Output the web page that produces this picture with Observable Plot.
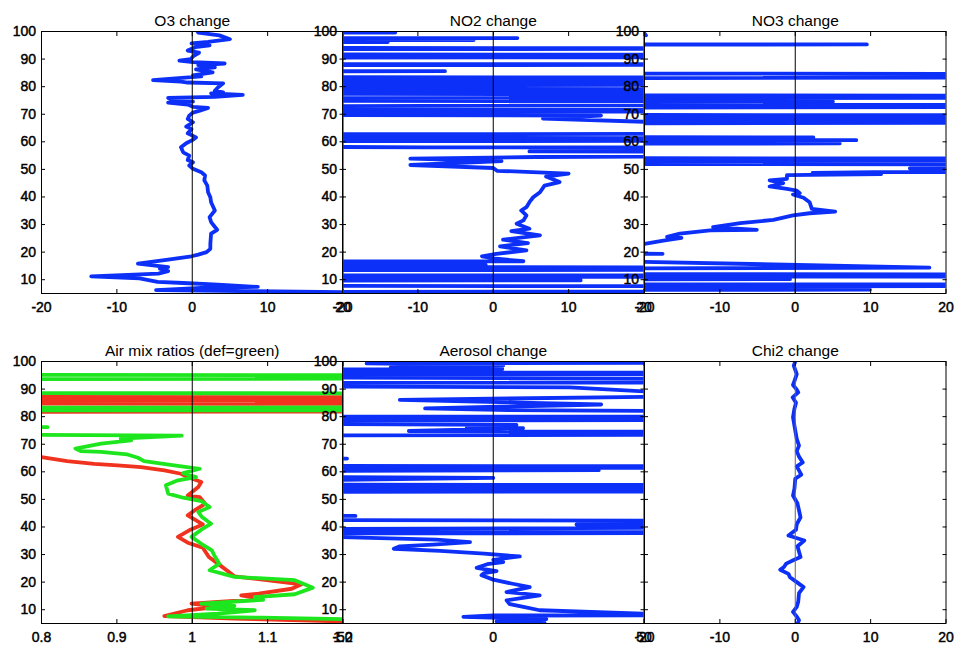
<!DOCTYPE html>
<html>
<head>
<meta charset="utf-8">
<script src="https://cdn.jsdelivr.net/npm/d3@7"></script>
<script src="https://cdn.jsdelivr.net/npm/@observablehq/plot@0.6"></script>
<style>
  body { margin: 0; background: #fff; }
  #fig { position: relative; width: 955px; height: 648px; background: #fff; overflow: hidden; }
  #fig svg { position: absolute; }
  /* tick labels are set a little heavier than the titles */
  #fig g[aria-label$="tick label"] { stroke: #000; stroke-width: 0.45px; }
</style>
</head>
<body>
<div id="fig"></div>
<script>
// Retrieval profiles, listed as [altitude, value] from the top down.
// Values far outside the axis limits are unstable retrieval levels; the axes clip them.

const o3Change = [
  [100.0, 0.7], [99.6, 0.8], [98.6, 3.6], [97.2, 5.0], [96.2, 2.1], [95.7, -0.1], [95.0, 2.3], [94.3, 0.4],
  [93.1, -0.6], [92.3, 0.9], [91.2, 0.2], [90.0, -0.2], [89.4, -1.7], [88.9, 0.1], [88.4, 4.3], [87.8, 0.8],
  [87.0, 3.0], [86.3, 0.5], [85.2, 2.7], [84.1, 0.1], [83.7, 1.2], [82.4, -5.2], [81.8, -1.5], [81.5, -0.6],
  [81.2, 4.1], [79.7, 3.4], [78.5, 3.0], [77.9, 4.1], [77.6, 2.5], [77.0, 6.7], [76.3, 3.0], [75.9, -3.2],
  [74.9, -2.3], [74.6, 0.1], [74.2, -3.2], [73.5, -0.6], [72.7, 0.1], [72.3, 2.1], [71.3, 1.0], [70.6, 0.1],
  [69.5, -0.4], [68.3, -0.6], [67.1, 0.1], [65.5, -0.8], [64.6, -0.1], [63.1, -0.6], [61.6, 0.5], [60.6, 0.0],
  [59.5, -0.8], [58.0, -1.5], [56.2, -1.2], [55.0, -0.4], [53.4, -0.6], [52.6, 0.1], [51.4, -0.4], [50.2, 0.1],
  [49.0, 1.2], [47.8, 1.7], [46.0, 1.6], [44.1, 2.0], [41.7, 2.1], [39.9, 2.4], [38.1, 2.5], [35.1, 3.0],
  [32.7, 2.3], [30.9, 2.5], [28.1, 3.3], [26.7, 2.5], [23.0, 2.4], [21.2, 2.4], [20.0, 1.9], [19.1, 0.8],
  [18.5, -0.1], [17.3, -3.2], [15.8, -7.2], [14.6, -3.2], [14.0, -4.3], [13.1, -3.2], [12.2, -4.5],
  [11.2, -13.4], [10.5, -7.0], [9.2, -4.6], [8.8, -1.2], [8.2, 3.4], [7.4, 8.7], [7.0, 1.2], [6.2, -4.8],
  [5.4, 23.3], [5.0, 40]
];

const no2Change = [
  [100.0, -200], [99.6, -13], [99.4, -200],
  [97.8, -200], [97.6, 3.2], [97.2, -200], [96.9, -2.6], [96.6, -200], [96.2, -14], [95.8, -200],
  [94.1, -200], [93.9, 200], [93.4, -200],
  [91.8, -200], [91.5, 200], [90.6, 13.9], [90.3, -200],
  [88.3, -200], [88.0, 200], [87.7, -200],
  [86.0, -200], [85.6, -6.4], [85.2, -200],
  [83.6, -200], [83.2, 200], [81.6, -200], [81.2, 200], [80.0, -200], [78.4, 200], [78.0, -200],
  [76.6, 200], [75.2, -200], [74.4, 200], [71.8, -200], [71.4, 200], [70.5, -200],
  [69.5, 14.3], [68.4, 6.6], [66.6, 28],
  [63.3, 200], [62.3, -200], [60.6, 200], [60.0, -200], [58.0, -8.8], [57.6, 200], [56.5, 4.8], [55.8, 200],
  [54.5, 5.7], [53.9, -11], [53.0, 1.1], [51.6, -11], [50.5, 0], [49.5, 0.5], [48.5, 10],
  [47.4, 7.0], [45.4, 8.8], [44.1, 6.8], [41.7, 6.2], [39.9, 5.3], [38.1, 4.8], [36.3, 4.4], [35.1, 3.7],
  [33.3, 4.4], [31.5, 4.0], [30.3, 3.1], [28.5, 4.8], [27.6, 2.4], [26.1, 6.2], [24.5, 1.3], [23.3, 4.6],
  [22.1, 0.9], [20.6, 4.4], [19.4, 0.4], [18.5, -1.5], [17.6, 0.4], [16.7, 4.0],
  [16.2, -200], [15.4, -1], [15.1, -200], [14.0, 200], [13.0, -200], [11.8, -200], [11.3, 200], [10.8, -200],
  [9.8, 11.6], [9.2, -200], [8.0, -200], [7.4, 200], [6.0, 200], [5.3, -200], [5.0, -200]
];

const no3Change = [
  [100.0, -20.2], [98.6, -19.8], [98.2, -200], [95.6, -200], [95.3, 9.5], [95.0, -200],
  [85.0, -200], [84.4, 200], [82.0, -200],
  [77.2, -200], [76.4, 200], [75.4, -200], [74.6, 5.0], [73.9, -200], [73.0, 200], [72.0, -200],
  [70.0, -200], [69.4, 200], [68.0, -200], [67.4, 200], [66.2, -200],
  [62.3, -200], [61.6, 2.4], [61.2, -200], [60.6, 8.1], [60.0, -200], [59.4, 5.9], [58.8, -200],
  [54.4, -200], [53.6, 200], [52.4, -200], [51.4, 200], [50.4, 15.2], [49.9, 200], [49.0, 10.5],
  [48.7, 2.3], [48.3, 11.4], [47.9, -1.1], [46.6, -1.1], [46.0, -3.4], [45.0, -1.6], [43.8, -3.4],
  [42.9, -1.1], [42.3, 0.2], [41.4, 0.6], [40.9, -0.3], [39.7, 1.1], [38.1, 1.9], [35.7, 2.2], [34.7, 5.3],
  [34.1, 1.9], [33.3, -0.3], [31.7, -2.9], [30.5, -7.3], [29.1, -10.9], [28.1, -5.1], [27.9, -11.3],
  [26.7, -15.3], [25.5, -17.0], [25.2, -15.1], [24.2, -17.5], [23.0, -20.0], [22.2, -40],
  [20.2, -200], [19.4, -17.6], [18.9, -200], [17.6, -40], [14.4, 17.8], [14.0, -40],
  [12.4, -200], [11.6, 200], [10.6, -200], [10.2, -0.7], [9.8, -200], [8.6, -200], [8.0, 200], [7.2, -200],
  [6.4, 9.9], [5.6, -200], [5.0, -200]
];

// Air mixing ratios: retrieved (red) and default (green)
const airMixRatio = [
  [90.0, -2], [87.6, -2], [86.6, 4], [85.2, -2], [84.2, 4], [82.2, 4], [81.4, -2],
  [66.0, -2], [65.3, 0.8], [63.9, 0.834], [62.9, 0.870], [62.3, 0.901], [61.7, 0.932], [60.5, 0.963],
  [59.3, 0.985], [58.1, 0.994], [56.3, 1.012], [54.5, 1.008], [51.4, 0.994], [50.8, 1.010], [48.4, 1.017],
  [46.0, 1.003], [44.2, 0.994], [40.9, 1.014], [38.8, 0.996], [36.4, 0.981], [34.3, 0.994], [32.5, 1.014],
  [29.1, 1.022], [26.7, 1.034], [22.1, 1.056], [19.2, 1.145], [17.6, 1.132], [15.8, 1.088], [15.2, 1.065],
  [13.9, 1.092], [12.2, 0.999], [11.0, 1.034], [9.8, 0.994], [7.7, 0.963], [6.8, 1.056], [5.0, 1.3]
];

const airMixRatioDefault = [
  [97.0, -2], [95.4, -2], [94.8, 4], [92.6, -2], [89.0, -2], [88.0, 4],
  [83.5, 4], [83.1, -2], [82.5, 4], [82.1, -2],
  [76.6, -2], [76.2, 0.808], [75.8, -2], [74.3, 0.3], [73.1, 0.986], [72.0, 0.905], [71.4, 0.919],
  [70.2, 0.879], [68.4, 0.845], [67.5, 0.852], [67.2, 0.879], [66.8, 0.896], [66.3, 0.914], [65.1, 0.928],
  [63.9, 0.936], [62.3, 0.976], [61.1, 1.010], [59.5, 0.988], [58.1, 1.005], [56.9, 0.981], [55.1, 0.965],
  [52.1, 0.968], [50.6, 0.988], [49.4, 1.012], [47.2, 1.023], [45.4, 1.008], [43.6, 1.013], [41.2, 1.025],
  [39.0, 1.012], [36.4, 0.999], [33.9, 1.012], [31.5, 1.026], [29.3, 1.030], [26.7, 1.036], [24.3, 1.023],
  [21.9, 1.056], [20.7, 1.136], [18.0, 1.160], [15.6, 1.136], [14.6, 1.083], [13.6, 1.094], [12.2, 1.012],
  [11.4, 1.056], [10.4, 1.019], [9.8, 1.083], [8.6, 1.034], [7.6, 0.968], [7.1, 1.092], [6.4, 1.234], [5.0, 2]
];

const aerosolChange = [
  [100.0, 300], [99.3, -42], [98.6, 3.3], [97.9, -34], [97.3, 3.0],
  [96.4, -300], [95.6, 300], [95.2, -300], [92.8, 300], [91.8, -300],
  [90.6, 25.4], [88.6, 60], [87.6, 80], [86.1, -31], [84.4, 35.8], [83.0, -22.6], [82.4, 5],
  [80.2, 300], [79.8, -300], [78.8, 300], [78.6, -300],
  [77.0, 7.7], [76.4, -8.8], [75.8, 9.9], [74.8, -28], [73.8, 300], [72.8, -300],
  [65.2, -300], [64.8, -48.5], [64.4, -300],
  [62.4, -300], [61.8, 300], [61.0, -300], [60.6, 35], [59.6, -300], [57.8, 0], [57.0, -60],
  [55.6, -300], [55.0, 300], [53.8, -300], [53.2, 300], [52.4, -300],
  [44.6, -300], [44.0, -45.7], [43.4, -300], [43.0, -300], [41.8, 300],
  [40.9, 27.6], [40.3, 300], [39.6, 27.6], [38.5, -300], [37.9, 300], [37.5, -300],
  [36.4, -52], [35.4, -18.7], [34.5, -7.7], [33.6, -20], [33.0, -31], [32.1, -33], [31.3, -17.6],
  [30.3, -3], [29.3, 8.8], [28.1, 0], [27.3, 3.3], [26.5, -2], [25.2, -5.5], [24.0, 1.1], [23.3, -3],
  [22.5, -3.9], [20.9, 0], [19.5, 6], [18.2, 12.1], [16.4, 4.4], [15.2, 15.4], [13.4, 4.4], [12.0, 5.5],
  [11.0, 10], [9.8, 15.4], [8.6, 49.6], [8.2, 300], [7.9, 0], [7.4, -9.9], [6.6, 17.6], [5.8, 1.1],
  [5.3, 17], [5.0, 5]
];

const chi2Change = [
  [100.0, 0.0], [98.5, -0.2], [95.4, 0.2], [93.0, -0.1], [91.5, -0.3], [89.8, 0.2], [88.8, 0.4],
  [87.0, -0.35], [85.0, 0.1], [83.0, -0.1], [79.8, -0.3], [75.0, 0.0], [72.0, 0.2], [69.5, 0.5],
  [67.5, 0.2], [65.5, 0.5], [63.4, 1.0], [62.0, 0.2], [59.0, 0.8], [57.5, 0.0], [54.0, -0.1],
  [51.4, -0.3], [48.5, 0.3], [46.0, 0.5], [43.5, 0.7], [41.0, 0.2], [39.0, 0.1], [36.9, -0.9],
  [35.1, 1.2], [33.0, 0.3], [31.0, 0.5], [29.1, 0.7], [28.0, -0.2], [26.7, -1.2], [25.5, -1.5],
  [24.5, -2.0], [23.0, -0.9], [21.8, -0.7], [20.0, 0.2], [18.2, 1.1], [16.0, 0.5], [13.0, 0.4],
  [11.0, 0.2], [9.2, -0.3], [7.5, 0.2], [6.2, 0.5], [5.0, 0.3]
];

const altitudeTicks = [10, 20, 30, 40, 50, 60, 70, 80, 90, 100];
const changeTicks = [-20, -10, 0, 10, 20];
const ratioTicks = [0.8, 0.9, 1, 1.1, 1.2];
const aerosolTicks = [-50, 0, 50];

const BLUE = "#0c30f8", RED = "#f0321e", GREEN = "#1ee61e";

const panels = [
  { title: "O3 change", series: [[o3Change, BLUE]], domain: [-20, 20], ticks: changeTicks, ref: 0, col: 0, row: 0, yLabels: true },
  { title: "NO2 change", series: [[no2Change, BLUE]], domain: [-20, 20], ticks: changeTicks, ref: 0, col: 1, row: 0, yLabels: true },
  { title: "NO3 change", series: [[no3Change, BLUE]], domain: [-20, 20], ticks: changeTicks, ref: 0, col: 2, row: 0, yLabels: true },
  { title: "Air mix ratios (def=green)", series: [[airMixRatio, RED], [airMixRatioDefault, GREEN]], domain: [0.8, 1.2], ticks: ratioTicks, ref: 1, col: 0, row: 1, yLabels: true },
  { title: "Aerosol change", series: [[aerosolChange, BLUE]], domain: [-50, 50], ticks: aerosolTicks, ref: 0, col: 1, row: 1, yLabels: true },
  { title: "Chi2 change", series: [[chi2Change, BLUE]], domain: [-20, 20], ticks: changeTicks, ref: 0, col: 2, row: 1, yLabels: false, refColor: "#666" }
];

// Layout of the 2x3 grid of axes
const colLeft = [41, 342.3, 644];
const rowTop = [30.7, 361];
const frameW = 301.5, frameH = 262;
const mL = 50, mR = 20, mT = 40, mB = 30;
const fmt = d => String(d);
const fig = document.getElementById("fig");

for (const p of panels) {
  const svg = Plot.plot({
    width: mL + frameW + mR,
    height: mT + frameH + mB,
    marginLeft: mL, marginRight: mR, marginTop: mT, marginBottom: mB,
    style: {
      background: "transparent",
      overflow: "visible",
      fontFamily: "'Liberation Sans', Arial, Helvetica, sans-serif",
      fontSize: "14px",
      color: "#000"
    },
    x: { domain: p.domain },
    y: { domain: [5, 100] },
    marks: [
      ...p.series.map(([data, color]) =>
        Plot.line(data, { x: d => d[1], y: d => d[0], stroke: color, strokeWidth: 3.8, clip: true })
      ),
      Plot.ruleX([p.ref], { stroke: p.refColor || "#000", strokeWidth: 1 }),
      Plot.frame({ stroke: "#000", strokeWidth: 1 }),
      Plot.axisX(p.ticks, { anchor: "bottom", tickSize: -4, tickFormat: () => "", label: null }),
      Plot.axisX(p.ticks, { anchor: "top", tickSize: -4, tickFormat: () => "", label: null }),
      Plot.axisY(altitudeTicks, { anchor: "left", tickSize: -4, tickFormat: () => "", label: null }),
      Plot.axisY(altitudeTicks, { anchor: "right", tickSize: -4, tickFormat: () => "", label: null }),
      Plot.axisX(p.ticks, { anchor: "bottom", tickSize: 0, tickPadding: 9, tickFormat: fmt, label: null, fontSize: 14 }),
      p.yLabels ? Plot.axisY(altitudeTicks, { anchor: "left", tickSize: 0, tickPadding: 5.5, tickFormat: fmt, label: null, fontSize: 14 }) : null,
      Plot.text([p.title], { frameAnchor: "top", dy: -16.5, text: d => d, fontSize: 15.5 })
    ]
  });
  svg.style.left = (colLeft[p.col] - mL) + "px";
  svg.style.top = (rowTop[p.row] - mT) + "px";
  fig.appendChild(svg);
}
</script>
</body>
</html>
